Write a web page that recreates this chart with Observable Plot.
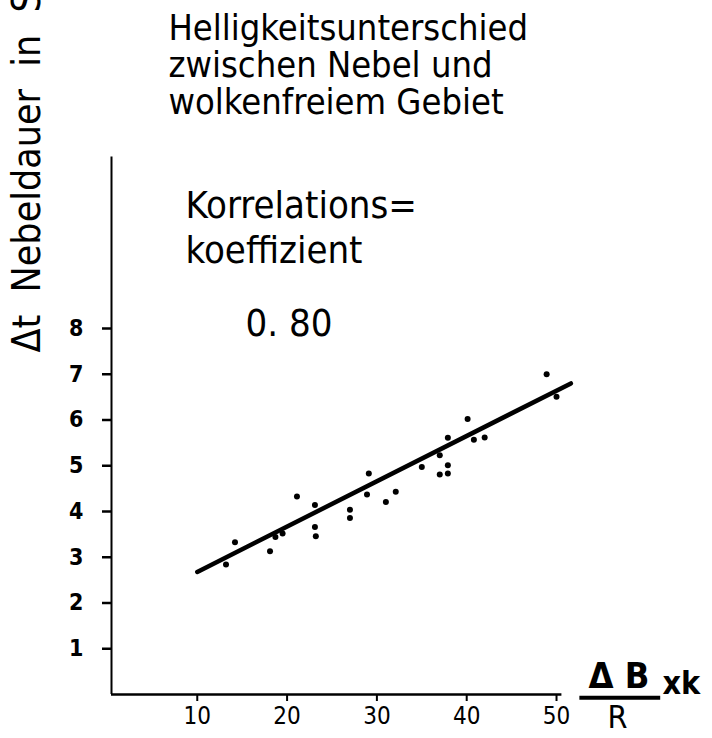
<!DOCTYPE html>
<html><head><meta charset="utf-8">
<script src="https://cdn.jsdelivr.net/npm/d3@7"></script>
<script src="https://cdn.jsdelivr.net/npm/@observablehq/plot@0.6"></script>
<style>body{margin:0;background:#fff}</style>
</head><body><div id="chart"></div>
<script>
// Scatter data: ΔB/R·k (x) vs Δt Nebeldauer (y)
const xs = [13.2, 14.2, 18.1, 18.7, 19.5, 21.1, 23.1, 23.1, 23.2, 27.0, 27.0, 29.1, 28.9, 31.0, 32.1, 35.0, 37.0, 37.9, 37.9, 37.0, 37.9, 40.1, 40.8, 42.0, 48.9, 50.0];
const ys = [2.84, 3.33, 3.13, 3.44, 3.52, 4.33, 4.14, 3.66, 3.46, 4.04, 3.86, 4.83, 4.37, 4.21, 4.43, 4.97, 4.81, 4.83, 5.01, 5.23, 5.61, 6.02, 5.57, 5.62, 7.00, 6.51];
// Regression line end points as drawn
const fitX = [10, 51.6];
const fitY = [2.68, 6.8];
const yTicks = [1, 2, 3, 4, 5, 6, 7, 8];
const xTicks = [10, 20, 30, 40, 50];
const titleText = "Helligkeitsunterschied\nzwischen Nebel und\nwolkenfreiem Gebiet";
const yLabel = "Δt  Nebeldauer  in  Stunden";
const corrLabel = "Korrelations=\nkoeffizient";
const corrValue = "0. 80";
const xLabelTop = "Δ B";
const xLabelBottom = "R";
const xLabelTail = "xk";

const points = xs.map((x, i) => ({x, y: ys[i]}));
const fit = fitX.map((x, i) => ({x, y: fitY[i]}));
const font = "'DejaVu Sans Condensed', 'DejaVu Sans', sans-serif";

const plot = Plot.plot({
  width: 712, height: 738,
  marginLeft: 111, marginRight: 147, marginTop: 145, marginBottom: 44,
  style: {fontFamily: font, background: "#fff", color: "#000", overflow: "visible"},
  x: {domain: [0.45, 51]},
  y: {domain: [0, 12]},
  marks: [
    Plot.ruleX([0.45], {y1: 0, y2: 11.75, strokeWidth: 2}),
    Plot.ruleY([0], {x1: 0.45, x2: 50.6, strokeWidth: 2.5}),
    Plot.axisY(yTicks, {anchor: "left", tickSize: 9, tickPadding: 19, fontSize: 23, fontWeight: "bold", strokeWidth: 2.5, label: null, fontFamily: "'DejaVu Sans Condensed', 'DejaVu Sans', sans-serif"}),
    Plot.axisX(xTicks, {anchor: "bottom", tickSize: 7, tickPadding: 5, fontSize: 24, strokeWidth: 2, label: null}),
    Plot.line(fit, {x: "x", y: "y", strokeWidth: 4.5, strokeLinecap: "round"}),
    Plot.dot(points, {x: "x", y: "y", r: 3, fill: "black", stroke: "none"}),
    Plot.text([titleText], {frameAnchor: "top-left", dx: 57, dy: -132, textAnchor: "start", lineAnchor: "top", fontSize: 36, lineHeight: 1.03}),
    Plot.text([yLabel], {frameAnchor: "top-left", dx: -84, dy: 207, textAnchor: "start", lineAnchor: "middle", rotate: -90, fontSize: 39}),
    Plot.text([corrLabel], {frameAnchor: "top-left", dx: 74, dy: 41, textAnchor: "start", lineAnchor: "top", fontSize: 38, lineHeight: 1.18}),
    Plot.text([corrValue], {frameAnchor: "top-left", dx: 134, dy: 164, textAnchor: "start", lineAnchor: "top", fontSize: 38}),
    Plot.text([xLabelTop], {frameAnchor: "top-left", dx: 477, dy: 517, textAnchor: "start", lineAnchor: "top", fontSize: 36, fontWeight: "bold"}),
    Plot.ruleY([-0.07], {x1: 52.6, x2: 61.6, strokeWidth: 4}),
    Plot.text([xLabelBottom], {frameAnchor: "top-left", dx: 506, dy: 560, textAnchor: "middle", lineAnchor: "top", fontSize: 32}),
    Plot.text([xLabelTail], {frameAnchor: "top-left", dx: 551, dy: 526, textAnchor: "start", lineAnchor: "top", fontSize: 32, fontWeight: "bold"})
  ]
});
document.getElementById("chart").appendChild(plot);
</script>
</body></html>
